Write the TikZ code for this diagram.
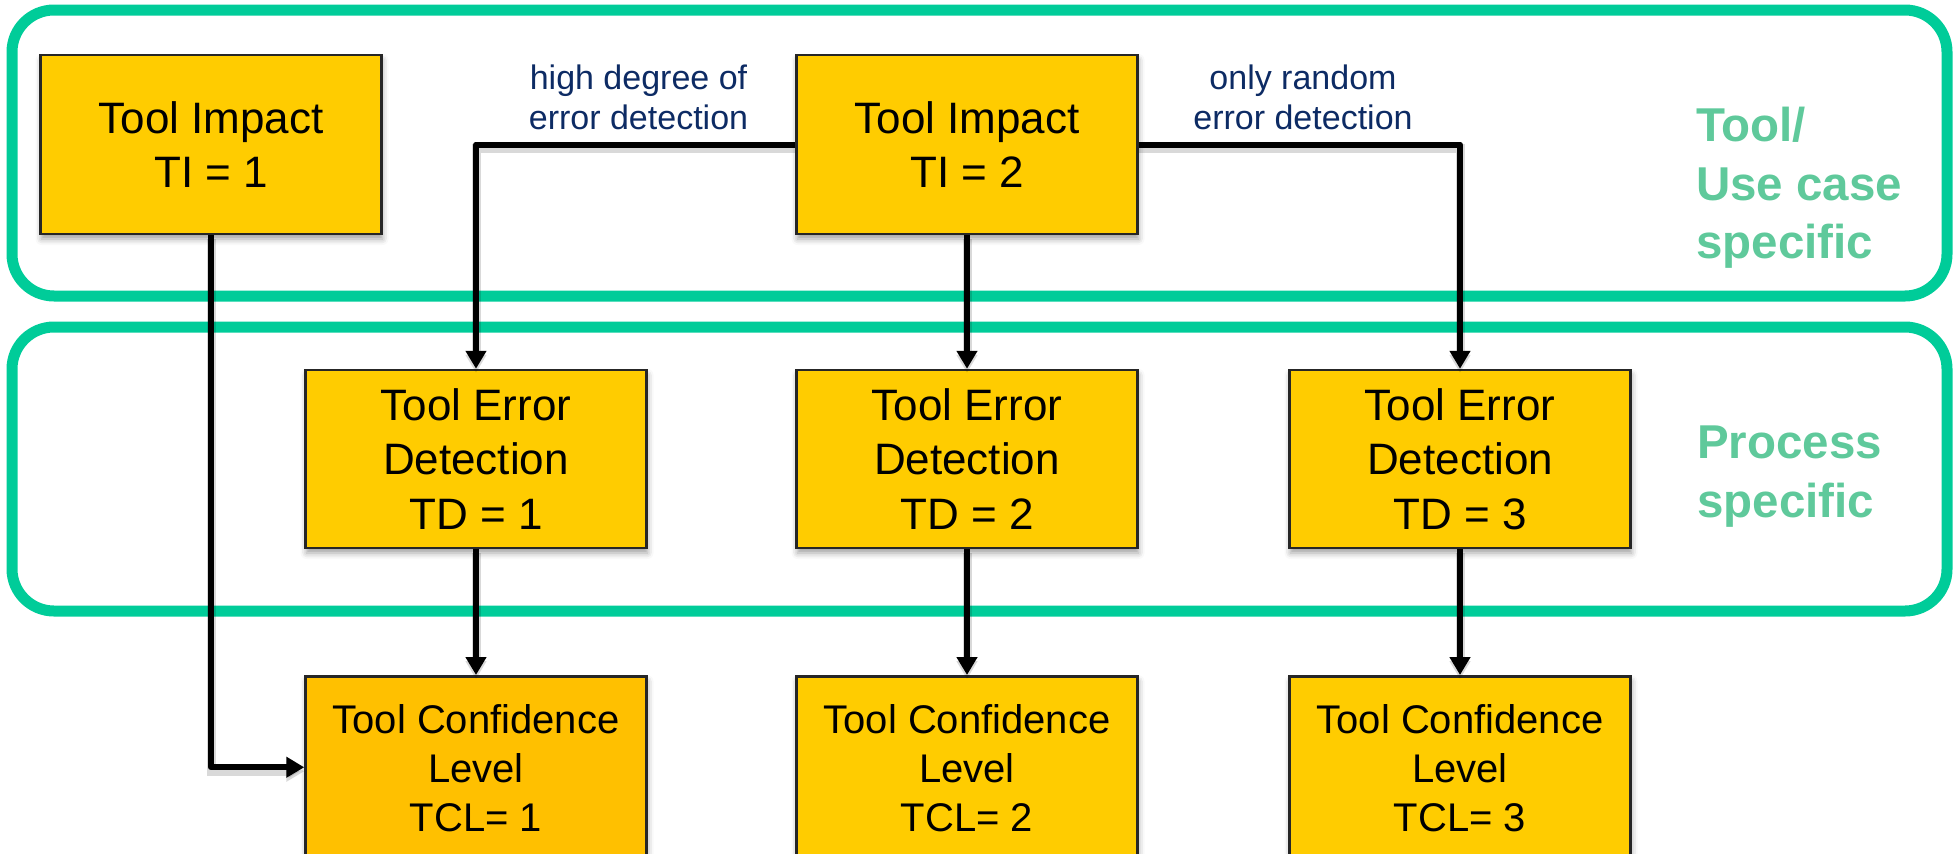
\documentclass[tikz,border=0pt]{standalone}
\usepackage{fontspec}
\setmainfont{Liberation Sans}
\usetikzlibrary{arrows.meta,shadows.blur,calc}

\definecolor{boxfill}{HTML}{FFCC00}
\definecolor{boxfillalt}{HTML}{FFC000}
\definecolor{groupline}{HTML}{00CC99}
\definecolor{grouptext}{HTML}{5FC99B}
\definecolor{labeltext}{HTML}{0D2B64}

\tikzset{
  groupframe/.style={draw=groupline, line width=11pt, rounded corners=42pt},
  box/.style={draw=black!85, line width=2.5pt, fill=boxfill,
    minimum width=341pt, inner sep=0pt, align=center,
    font=\fontsize{44}{54.5}\selectfont,
    blur shadow={shadow xshift=1pt, shadow yshift=-5pt,
      shadow blur radius=6pt, shadow opacity=38}},
  tcltxt/.style={align=center, inner sep=0pt, font=\fontsize{40}{49}\selectfont},
  note/.style={text=labeltext, align=center, inner sep=0pt,
    font=\fontsize{34}{40}\selectfont},
  grouplbl/.style={text=grouptext, align=left, inner sep=0pt,
    font=\bfseries\fontsize{47.5}{58.5}\selectfont},
  conn/.style={line width=6pt, line join=round,
    -{Triangle[width=20pt,length=18pt]},
    preaction={draw=black, opacity=0.15, line width=9pt,
      transform canvas={yshift=-4pt}}},
}

\begin{document}
\begin{tikzpicture}[x=1pt,y=-1pt]
\useasboundingbox (0,0) rectangle (1957,854);
\clip (0,0) rectangle (1957,854);

% group frames
\draw[groupframe] (12,10) rectangle (1947,296);
\draw[groupframe] (12,327) rectangle (1947,611);

% group captions
\node[grouplbl, anchor=north west] (gtool) at (1696,107) {Tool/\\Use case\\specific};
\node[grouplbl, anchor=north west] (gproc) at (1697,426) {Process\\specific};

% tool impact
\node[box, minimum height=179pt] (ti1) at (211,144.5) {Tool Impact\\TI = 1};
\node[box, minimum height=179pt] (ti2) at (967,144.5) {Tool Impact\\TI = 2};

% tool error detection
\node[box, minimum height=178pt] (td1) at (476,459) {Tool Error\\Detection\\TD = 1};
\node[box, minimum height=178pt] (td2) at (967,459) {Tool Error\\Detection\\TD = 2};
\node[box, minimum height=178pt] (td3) at (1460,459) {Tool Error\\Detection\\TD = 3};

% tool confidence level
\node[box, fill=boxfillalt, minimum height=182pt, anchor=north,
  label={[tcltxt, yshift=-1pt]center:Tool Confidence\\Level\\TCL= 1}] (tcl1) at (476,675) {};
\node[box, minimum height=182pt, anchor=north,
  label={[tcltxt, yshift=-1pt]center:Tool Confidence\\Level\\TCL= 2}] (tcl2) at (967,675) {};
\node[box, minimum height=182pt, anchor=north,
  label={[tcltxt, yshift=-1pt]center:Tool Confidence\\Level\\TCL= 3}] (tcl3) at (1460,675) {};

% branch captions
\node[note] (lhigh) at (638.5,97) {high degree of\\error detection};
\node[note] (lrand) at (1303,97) {only random\\error detection};

% connectors
\draw[conn] (ti2.west) -| (td1.north);
\draw[conn] (ti2.east) -| (td3.north);
\draw[conn] (ti2.south) -- (td2.north);
\draw[conn] (td1.south) -- (tcl1.north);
\draw[conn] (td2.south) -- (tcl2.north);
\draw[conn] (td3.south) -- (tcl3.north);
\draw[conn] (ti1.south) |- (tcl1.west);
\end{tikzpicture}
\end{document}
